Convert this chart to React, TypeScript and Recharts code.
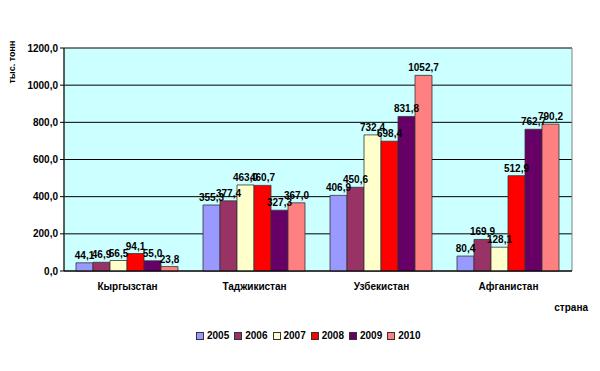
import React from 'react';
import { BarChart, Bar, XAxis, YAxis, CartesianGrid, LabelList, ReferenceArea, Legend } from 'recharts';

const countries = ['Кыргызстан', 'Таджикистан', 'Узбекистан', 'Афганистан'];
const years = ['2005', '2006', '2007', '2008', '2009', '2010'];
const v2005 = [44.1, 355.3, 406.9, 80.4];
const v2006 = [46.9, 377.4, 450.6, 169.9];
const v2007 = [56.5, 463.0, 732.4, 128.1];
const v2008 = [94.1, 460.7, 698.4, 512.9];
const v2009 = [55.0, 327.3, 831.8, 762.7];
const v2010 = [23.8, 367.0, 1052.7, 790.2];
const yTicks = [0, 200, 400, 600, 800, 1000, 1200];
const colors = ['#9999FF', '#993366', '#FFFFCC', '#FF0000', '#660066', '#FF8080'];

const series = [v2005, v2006, v2007, v2008, v2009, v2010];
const data = countries.map((c, i) => {
  const row: any = { name: c };
  years.forEach((y, k) => { row[y] = series[k][i]; });
  return row;
});

const fmt = (v: any) => Number(v).toFixed(1).replace('.', ',');
const FONT = 'Arial, "Liberation Sans", sans-serif';

const LegendContent = () => (
  <div style={{ display: 'flex', fontFamily: FONT, fontWeight: 'bold', fontSize: 10, color: '#000' }}>
    {years.map((y, i) => (
      <div key={y} style={{ display: 'flex', alignItems: 'center', marginRight: 5 }}>
        <span style={{ display: 'inline-block', width: 6, height: 6, background: colors[i], border: '1px solid #333', marginRight: 3 }} />
        <span>{y}</span>
      </div>
    ))}
  </div>
);

export default function App() {
  return (
    <div style={{ position: 'absolute', left: 0, top: 0, width: 600, height: 371, background: '#fff' }}>
      <BarChart
        width={600}
        height={371}
        data={data}
        margin={{ top: 48, right: 28, left: 0, bottom: 46 }}
        barCategoryGap={12}
        barGap={0}
      >
        <CartesianGrid vertical={false} stroke="#000" fill="#CCFFFF" strokeOpacity={1} />
        <ReferenceArea y1={0} y2={1200} fill="none" stroke="#808080" strokeWidth={1} ifOverflow="visible" />
        <XAxis
          dataKey="name"
          height={40}
          axisLine={{ stroke: '#000' }}
          tickLine={false}
          tick={{ fontFamily: FONT, fontWeight: 'bold', fontSize: 10, fill: '#000' }}
          tickMargin={6}
          label={{
            content: () => (
              <text x={588} y={311} textAnchor="end" fontFamily={FONT} fontWeight="bold" fontSize={10} fill="#000">страна</text>
            ),
          }}
        />
        <YAxis
          width={64}
          domain={[0, 1200]}
          ticks={yTicks}
          tickFormatter={fmt}
          interval={0}
          axisLine={{ stroke: '#000' }}
          tickLine={{ stroke: '#000' }}
          tickSize={4}
          tick={{ fontFamily: FONT, fontWeight: 'bold', fontSize: 10, fill: '#000' }}
          label={{
            content: () => (
              <text x={15} y={62} transform="rotate(-90 15 62)" textAnchor="middle" fontFamily={FONT} fontWeight="bold" fontSize={9} fill="#000">тыс. тонн</text>
            ),
          }}
        />
        <Legend
          content={<LegendContent />}
          wrapperStyle={{ position: 'absolute', left: 196, top: 330, width: 260, height: 14 }}
        />
        {years.map((y, i) => (
          <Bar key={y} dataKey={y} fill={colors[i]} stroke="#333" strokeWidth={0.8} isAnimationActive={false}>
            <LabelList dataKey={y} position="top" offset={4} formatter={fmt}
              style={{ fontFamily: FONT, fontWeight: 'bold', fontSize: 10, fill: '#000' }} />
          </Bar>
        ))}
      </BarChart>
    </div>
  );
}
